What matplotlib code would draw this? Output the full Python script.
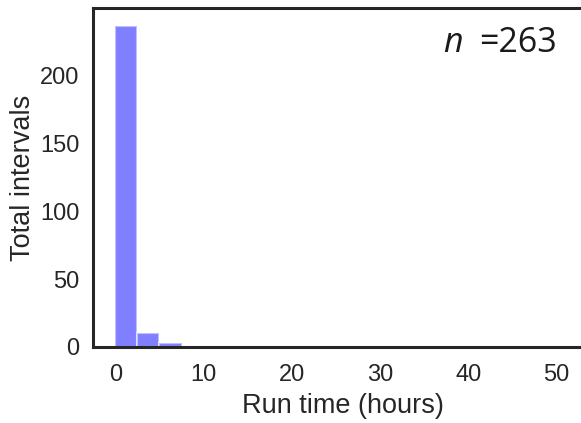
import numpy as np
import matplotlib
matplotlib.use("Agg")
import matplotlib.pyplot as plt

# histogram of run times (hours), bins 2.5 h wide
bin_edges = [0.0, 2.5, 5.0, 7.5]
counts = [237, 10, 3]
n_total = 263

plt.rcParams["font.family"] = ["Liberation Sans", "DejaVu Sans"]

fig = plt.figure(figsize=(5.81, 4.23), dpi=100)
ax = fig.add_axes([0.1605, 0.1797, 0.86, 0.8013])

left = np.array(bin_edges[:-1])
width = np.diff(bin_edges)
ax.bar(left, counts, width=width, align="edge", color="blue", alpha=0.5,
       edgecolor="white", linewidth=1.5)

ax.set_xlim(-2.5, 54.1)
ax.set_ylim(0, 250)
ax.set_xticks([0, 10, 20, 30, 40, 50])
ax.set_yticks([0, 50, 100, 150, 200])
ax.tick_params(axis="both", length=0, labelsize=17, colors="#262626")
ax.tick_params(axis="x", pad=12)
ax.tick_params(axis="y", pad=10)
for s in ax.spines.values():
    s.set_color("#262626")
    s.set_linewidth(2.2)

ax.set_xlabel("Run time (hours)", fontsize=19.5, color="#262626", labelpad=5)
ax.set_ylabel("Total intervals", fontsize=19.5, color="#262626", labelpad=3)

fig.text(0.958, 0.877, "=263", fontsize=24.5, family="Open Sans",
         ha="right", va="baseline", color="#1a1a1a")
fig.text(0.762, 0.877, "n", fontsize=24.5, family="Open Sans", style="italic",
         ha="left", va="baseline", color="#1a1a1a")

fig.savefig("out.png", dpi=100)
